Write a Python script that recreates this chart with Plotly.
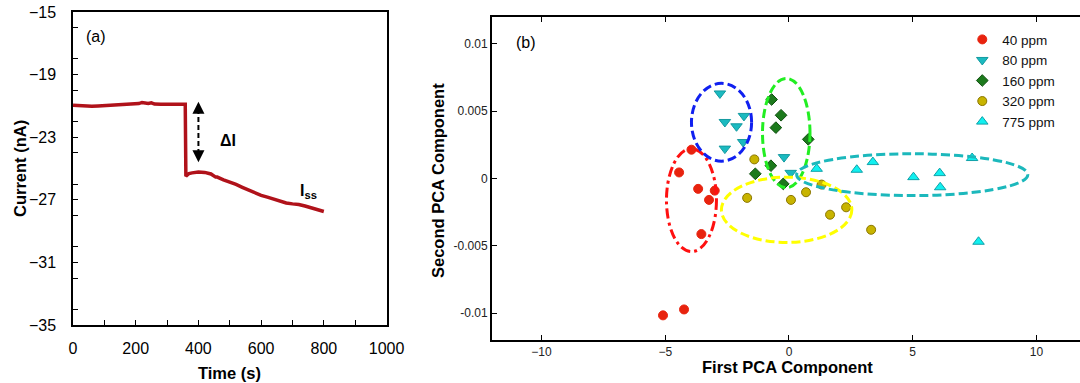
import plotly.graph_objects as go

# ---------------- Panel (a) data ----------------
time_s = [0, 20, 40, 60, 80, 100, 120, 140, 160, 180, 200, 210, 220, 240, 250, 260, 280, 300,
          320, 340, 358, 360, 370, 380, 400, 420, 440, 455, 460, 480, 500, 520, 540, 560, 580,
          600, 620, 640, 660, 680, 700, 720, 740, 760, 780, 800]
current_nA = [-20.96, -21.0, -21.02, -21.03, -21.0, -20.98, -20.97, -20.95, -20.93, -20.92, -20.9,
              -20.85, -20.78, -20.85, -20.8, -20.88, -20.9, -20.9, -20.9, -20.88, -20.9,
              -25.5, -25.32, -25.28, -25.22, -25.25, -25.35, -25.55, -25.55, -25.72, -25.86,
              -26.02, -26.2, -26.38, -26.55, -26.72, -26.83, -26.97, -27.1, -27.2, -27.26,
              -27.3, -27.4, -27.5, -27.6, -27.75]

# ---------------- Panel (b) data ----------------
pc1_40 = [-3.94, -4.44, -3.67, -3.0, -3.23, -3.54, -5.09, -4.24]
pc2_40 = [0.00214, 0.00045, -0.00077, -0.0009, -0.00159, -0.00413, -0.01017, -0.00973]
pc1_80 = [-2.79, -2.59, -2.12, -1.82, -2.59, -1.85, -0.20, 0.07]
pc2_80 = [0.00632, 0.0042, 0.00388, 0.00465, 0.00222, 0.00271, 0.00159, 0.00042]
pc1_160 = [-0.70, -0.32, -0.53, 0.78, -0.73, -1.36, -0.23]
pc2_160 = [0.00587, 0.0047, 0.00378, 0.00291, 0.00095, 0.00035, -0.0004]
pc1_320 = [-1.40, -1.69, 0.08, 0.69, 1.32, 1.66, 2.31, 3.32]
pc2_320 = [0.00142, -0.00144, -0.00159, -0.00102, -0.00045, -0.00269, -0.00214, -0.00381]
pc1_775 = [1.12, 2.74, 3.39, 5.03, 6.09, 6.11, 7.40, 7.66]
pc2_775 = [0.00072, 0.00065, 0.00122, 0.0001, 0.0004, -0.00065, 0.00152, -0.0047]

x_ticks_b = [-10, -5, 0, 5, 10]
y_ticks_b = [-0.01, -0.005, 0, 0.005, 0.01]
y_ticktext_b = ["-0.01", "-0.005", "0", "0.005", "0.01"]

FONT = "Liberation Sans, Arial, sans-serif"

fig = go.Figure()

fig.add_trace(go.Scatter(x=time_s, y=current_nA, mode="lines",
                         line=dict(color="#B0121A", width=3.5),
                         xaxis="x", yaxis="y", showlegend=False))

series = [
    ("40 ppm", pc1_40, pc2_40, "circle", "#E8230E", "#E8230E", 9),
    ("80 ppm", pc1_80, pc2_80, "triangle-down", "#1BBAC0", "#139AA0", 10),
    ("160 ppm", pc1_160, pc2_160, "diamond", "#1C7A1C", "#105010", 9),
    ("320 ppm", pc1_320, pc2_320, "circle", "#C8B400", "#8A7600", 9),
    ("775 ppm", pc1_775, pc2_775, "triangle-up", "#10F0F0", "#10A0A8", 10),
]
for name, xs, ys, sym, fc, ec, sz in series:
    fig.add_trace(go.Scatter(x=xs, y=ys, mode="markers", name=name,
                             marker=dict(symbol=sym, color=fc, size=sz,
                                         line=dict(color=ec, width=1)),
                             xaxis="x2", yaxis="y2"))

# ---------------- Layout ----------------
tickfont_a = dict(family=FONT, size=16, color="black")
tickfont_b = dict(family=FONT, size=12, color="#222222")

fig.update_layout(
    width=1080, height=383,
    margin=dict(l=0, r=0, t=0, b=0, autoexpand=False),
    paper_bgcolor="white", plot_bgcolor="white",
    font=dict(family=FONT, color="black"),
    xaxis=dict(domain=[0.0676, 0.3579], range=[0, 1000], anchor="y", automargin=False,
               tickmode="linear", tick0=0, dtick=200, ticks="inside", ticklen=5,
               minor=dict(dtick=100, ticks="inside", ticklen=5, tickcolor="black"),
               tickcolor="black", showline=True, linecolor="black", linewidth=1.5,
               mirror=True, showgrid=False, zeroline=False, tickfont=tickfont_a,
               ticklabelstandoff=8),
    yaxis=dict(domain=[0.15144, 0.96867], range=[-35, -15], anchor="x", automargin=False,
               tickmode="linear", tick0=-35, dtick=4, ticks="inside", ticklen=5,
               minor=dict(dtick=2, ticks="inside", ticklen=5, tickcolor="black"),
               tickcolor="black", showline=True, linecolor="black", linewidth=1.5,
               mirror=True, showgrid=False, zeroline=False, tickfont=tickfont_a,
               ticklabelstandoff=12),
    xaxis2=dict(domain=[0.45556, 1.0], range=[-12, 11.76], anchor="y2", automargin=False,
                tickmode="array", tickvals=x_ticks_b, ticks="inside", ticklen=5,
                tickcolor="black", showline=True, linecolor="black", linewidth=2,
                mirror="ticks", showgrid=False, zeroline=False, tickfont=tickfont_b),
    yaxis2=dict(domain=[0.11227, 0.95561], range=[-0.012, 0.012], anchor="x2",
                automargin=False,
                tickmode="array", tickvals=y_ticks_b, ticktext=y_ticktext_b,
                ticks="inside", ticklen=5, tickcolor="black", showline=True,
                linecolor="black", linewidth=2, showgrid=False, zeroline=False,
                tickfont=tickfont_b),
    yaxis3=dict(overlaying="y2", side="right", anchor="x2", range=[-0.012, 0.012],
                automargin=False,
                tickmode="array", tickvals=y_ticks_b, ticks="inside", ticklen=3,
                tickcolor="black", showline=False, showticklabels=False,
                showgrid=False, zeroline=False),
    legend=dict(x=0.891, y=0.937, xanchor="left", yanchor="top",
                bgcolor="rgba(0,0,0,0)", font=dict(family=FONT, size=13.5, color="#111111"),
                itemwidth=30, tracegroupgap=0),
)

# ---------------- Ellipses (panel b) ----------------
ellipses = [
    (-4.95, -2.93, 0.00222, -0.00543, "#FF1010", "10px,4px,3px,4px"),
    (-3.94, -1.51, 0.00707, 0.00129, "#1020F0", "9px,4px"),
    (-1.07, 0.85, 0.00744, -0.00069, "#22EE22", "9px,4px"),
    (-2.73, 2.54, 0.0001, -0.00475, "#FFFF00", "9px,4px"),
    (0.31, 9.65, 0.00184, -0.00127, "#1CB8BC", "9px,4px"),
]
for x0, x1, y0, y1, col, dash in ellipses:
    fig.add_shape(type="circle", xref="x2", yref="y2", x0=x0, x1=x1, y0=y0, y1=y1,
                  line=dict(color=col, width=3, dash=dash), layer="above")

# ---------------- Annotations ----------------
# dashed double arrow for delta I
fig.add_shape(type="line", xref="x", yref="y", x0=400, x1=400, y0=-21.2, y1=-24.25,
              line=dict(color="black", width=2, dash="5px,3px"))
fig.add_annotation(x=400, y=-20.73, xref="x", yref="y", text="", showarrow=True,
                   ax=0, ay=9, arrowhead=2, arrowsize=1.2, arrowwidth=2, arrowcolor="black")
fig.add_annotation(x=400, y=-24.6, xref="x", yref="y", text="", showarrow=True,
                   ax=0, ay=-9, arrowhead=2, arrowsize=1.2, arrowwidth=2, arrowcolor="black")
fig.add_annotation(x=495, y=-23.18, xref="x", yref="y", text="<b>ΔI</b>", showarrow=False,
                   font=dict(family=FONT, size=16, color="black"))
fig.add_annotation(x=752, y=-26.45, xref="x", yref="y", text="<b>I<sub>ss</sub></b>",
                   showarrow=False, font=dict(family=FONT, size=16, color="black"))
fig.add_annotation(x=72, y=-16.55, xref="x", yref="y", text="(a)", showarrow=False,
                   font=dict(family=FONT, size=16, color="black"))
fig.add_annotation(x=-10.63, y=0.0101, xref="x2", yref="y2", text="(b)", showarrow=False,
                   font=dict(family=FONT, size=16, color="black"))

# axis titles
title_font = dict(family=FONT, size=16.5, color="black")
fig.add_annotation(x=20 / 1080, y=1 - 169 / 383, xref="paper", yref="paper",
                   text="<b>Current (nA)</b>", textangle=-90, showarrow=False,
                   font=title_font, xanchor="center", yanchor="middle")
fig.add_annotation(x=229 / 1080, y=1 - 373 / 383, xref="paper", yref="paper",
                   text="<b>Time (s)</b>", showarrow=False, font=title_font,
                   xanchor="center", yanchor="middle")
fig.add_annotation(x=438 / 1080, y=1 - 181 / 383, xref="paper", yref="paper",
                   text="<b>Second PCA Component</b>", textangle=-90, showarrow=False,
                   font=title_font, xanchor="center", yanchor="middle")
fig.add_annotation(x=787.5 / 1080, y=1 - 367 / 383, xref="paper", yref="paper",
                   text="<b>First PCA Component</b>", showarrow=False, font=title_font,
                   xanchor="center", yanchor="middle")

fig.write_html("out.html")
